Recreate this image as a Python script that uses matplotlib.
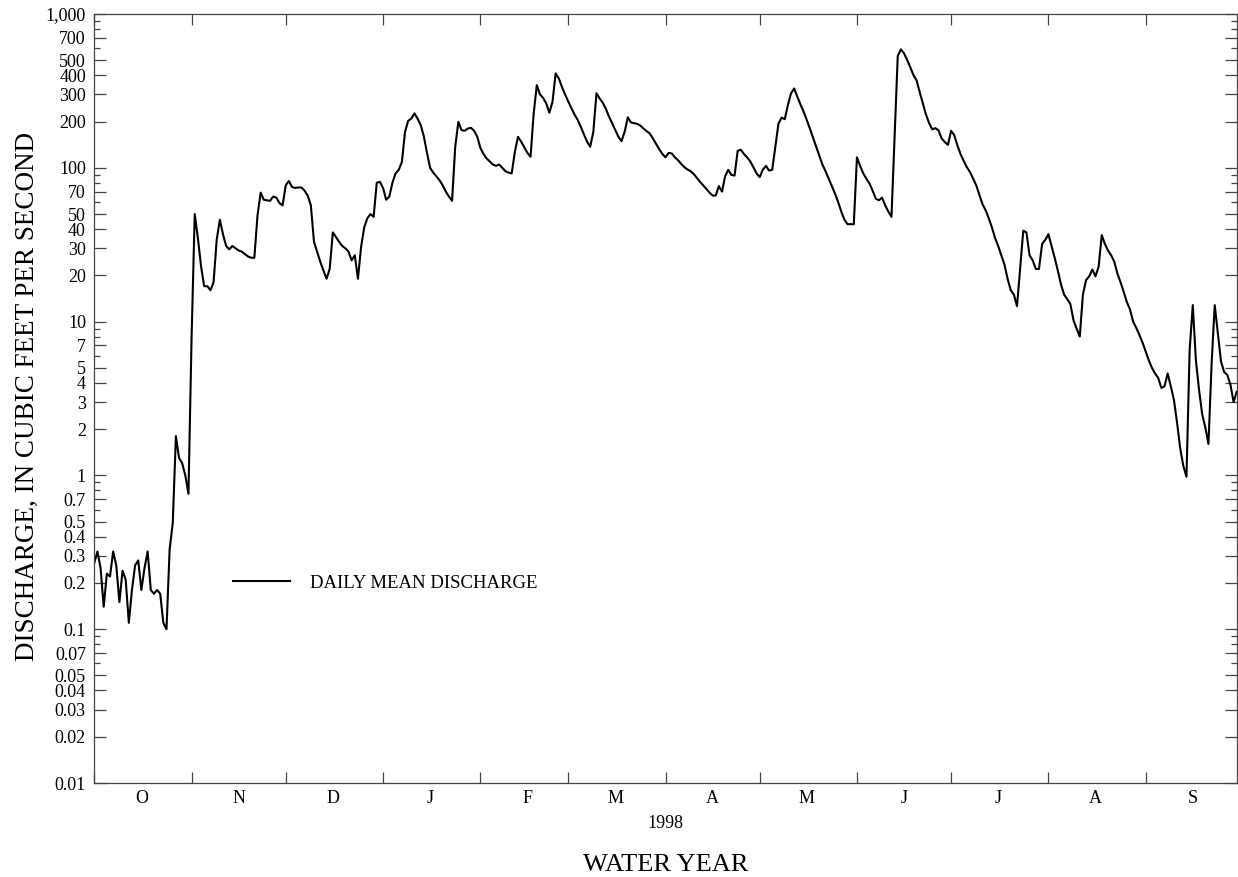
import matplotlib
matplotlib.use('Agg')
import matplotlib.pyplot as plt
import matplotlib.dates as mdates
import matplotlib.ticker as mticker
import numpy as np
import pandas as pd

plt.rcParams['font.family'] = ['Liberation Serif', 'DejaVu Serif']

# Daily mean discharge, water year 1998 (Oct 1997 - Sep 1998), cubic feet per second
oct_flow = [0.27, 0.32, 0.25, 0.14, 0.23, 0.22, 0.32, 0.26, 0.15, 0.24,
            0.21, 0.11, 0.18, 0.26, 0.28, 0.18, 0.25, 0.32, 0.18, 0.17,
            0.18, 0.17, 0.11, 0.10, 0.33, 0.49, 1.8, 1.3, 1.2, 1.0, 0.76]
nov_flow = [8.0, 50, 35, 23, 17, 17, 16, 18, 34, 46,
            37, 31, 29.5, 31, 30, 29, 28.5, 27.5, 26.5, 26,
            26, 49, 69, 62, 61.5, 61, 65, 64, 59, 57]
dec_flow = [77, 82, 75, 74, 74.5, 74.5, 71, 66, 57, 33,
            28.5, 24.5, 21.5, 19, 22, 38, 35.5, 33, 31, 30,
            28.5, 25, 27, 19, 30.5, 41, 47, 50, 48, 80, 81]
jan_flow = [74, 62, 65, 80, 92, 97, 109, 171, 202, 209,
            226, 209, 190, 160, 125, 100, 93, 88, 83, 77,
            70, 65, 61, 137, 199, 176, 174, 180, 182, 174, 160]
feb_flow = [135, 123, 115, 110, 105, 103, 105, 100, 95, 93,
            92, 127, 159, 148, 136, 125, 118, 226, 345, 300,
            285, 262, 228, 269, 411, 381, 336, 300]
mar_flow = [270, 245, 222, 205, 185, 165, 148, 137, 171, 305,
            283, 265, 242, 215, 195, 176, 159, 149, 172, 213,
            197, 195, 193, 188, 180, 173, 167, 155, 143, 132, 123]
apr_flow = [117, 125, 124, 117, 112, 106, 101, 97.5, 95, 91,
            86, 81, 77, 73, 69, 66, 66, 76, 70, 88,
            97, 90, 89, 129, 131, 123, 117, 110, 101, 92]
may_flow = [87, 97, 103, 96, 97, 137, 194, 212, 207, 256,
            305, 328, 290, 258, 232, 205, 180, 157, 137, 120,
            105, 95, 85, 76, 68, 60, 52, 46, 43, 43, 43]
jun_flow = [117, 103, 92, 85, 79, 71, 63, 61.5, 64, 57,
            52, 48, 160, 533, 589, 555, 502, 450, 401, 370,
            310, 262, 222, 195, 178, 181, 175, 155, 147, 141]
jul_flow = [174, 163, 140, 123, 111, 101, 94, 85, 77, 67,
            58, 53, 47, 41, 35, 31, 27, 23.5, 19, 16,
            15, 12.6, 22, 39, 38, 27, 25, 22, 22, 32, 34]
aug_flow = [37, 31, 26, 21.5, 17.5, 15, 14, 13, 10.2, 9.0,
            8.0, 15, 18.6, 19.7, 21.8, 19.7, 22.7, 36.5, 32, 29,
            27, 24.5, 20.5, 18, 15.6, 13.4, 12, 10, 9.1, 8.2, 7.3]
sep_flow = [6.4, 5.6, 5.0, 4.6, 4.3, 3.7, 3.8, 4.6, 3.8, 3.1,
            2.2, 1.5, 1.15, 0.98, 6.5, 12.8, 5.6, 3.6, 2.5, 2.05,
            1.6, 5.3, 12.8, 8.4, 5.5, 4.7, 4.5, 3.9, 3.0, 3.5]

month_letters = ['O', 'N', 'D', 'J', 'F', 'M', 'A', 'M', 'J', 'J', 'A', 'S']
y_tick_values = [0.01, 0.02, 0.03, 0.04, 0.05, 0.07,
                 0.1, 0.2, 0.3, 0.4, 0.5, 0.7,
                 1, 2, 3, 4, 5, 7,
                 10, 20, 30, 40, 50, 70,
                 100, 200, 300, 400, 500, 700, 1000]
y_tick_labels = ['0.01', '0.02', '0.03', '0.04', '0.05', '0.07',
                 '0.1', '0.2', '0.3', '0.4', '0.5', '0.7',
                 '1', '2', '3', '4', '5', '7',
                 '10', '20', '30', '40', '50', '70',
                 '100', '200', '300', '400', '500', '700', '1,000']
y_minor_values = [m * 10.0 ** e for e in range(-2, 3) for m in (6, 8, 9)]

flow = np.array(oct_flow + nov_flow + dec_flow + jan_flow + feb_flow + mar_flow +
                apr_flow + may_flow + jun_flow + jul_flow + aug_flow + sep_flow)
dates = pd.date_range('1997-10-01', '1998-09-30', freq='D')

fig = plt.figure(figsize=(12.38, 8.77), dpi=100)
ax = fig.add_axes([94.3 / 1238, 1 - 783 / 877, (1236.7 - 94.3) / 1238, (783 - 14) / 877])

ax.plot(dates, flow, color='black', lw=1.5, label='DAILY MEAN DISCHARGE')

ax.set_yscale('log')
ax.set_ylim(0.01, 1000)
ax.set_xlim(dates[0], dates[-1])

# y axis: labelled ticks long, the rest short, both sides pointing in
ax.yaxis.set_major_locator(mticker.FixedLocator(y_tick_values))
ax.yaxis.set_major_formatter(mticker.FixedFormatter(y_tick_labels))
ax.yaxis.set_minor_locator(mticker.FixedLocator(y_minor_values))
ax.yaxis.set_minor_formatter(mticker.NullFormatter())
ax.tick_params(axis='y', which='major', direction='in', length=8.5, width=0.9,
               color='#444444', left=True, right=True, labelsize=13, pad=6)
ax.tick_params(axis='y', which='minor', direction='in', length=4.2, width=0.9,
               color='#444444', left=True, right=True)

# x axis: ticks at month starts, letters centred in each month
ax.xaxis.set_major_locator(mdates.MonthLocator())
ax.xaxis.set_major_formatter(mticker.NullFormatter())
ax.xaxis.set_minor_locator(mdates.MonthLocator(bymonthday=16))
ax.xaxis.set_minor_formatter(mticker.FixedFormatter(month_letters))
ax.tick_params(axis='x', which='major', direction='in', length=8, width=0.9,
               color='#444444', top=True, bottom=True)
ax.tick_params(axis='x', which='minor', length=0, labelsize=13, pad=5)

for s in ax.spines.values():
    s.set_color('#444444')
    s.set_linewidth(0.9)

fig.text(0.5 * (94.3 + 1236.7) / 1238, 1 - 823 / 877, '1998', ha='center', va='center', fontsize=13)
fig.text(0.5 * (94.3 + 1236.7) / 1238, 1 - 865 / 877, 'WATER YEAR', ha='center', va='center', fontsize=19)
fig.text(27 / 1238, 1 - 396 / 877, 'DISCHARGE, IN CUBIC FEET PER SECOND', ha='center', va='center',
         rotation=90, fontsize=19.5)

ax.legend(loc='center left', bbox_to_anchor=(0.1214, 0.260), frameon=False, fontsize=13.5,
          borderpad=0, borderaxespad=0, handlelength=3.05, handletextpad=1.05)

fig.savefig('out.png', dpi=100)
